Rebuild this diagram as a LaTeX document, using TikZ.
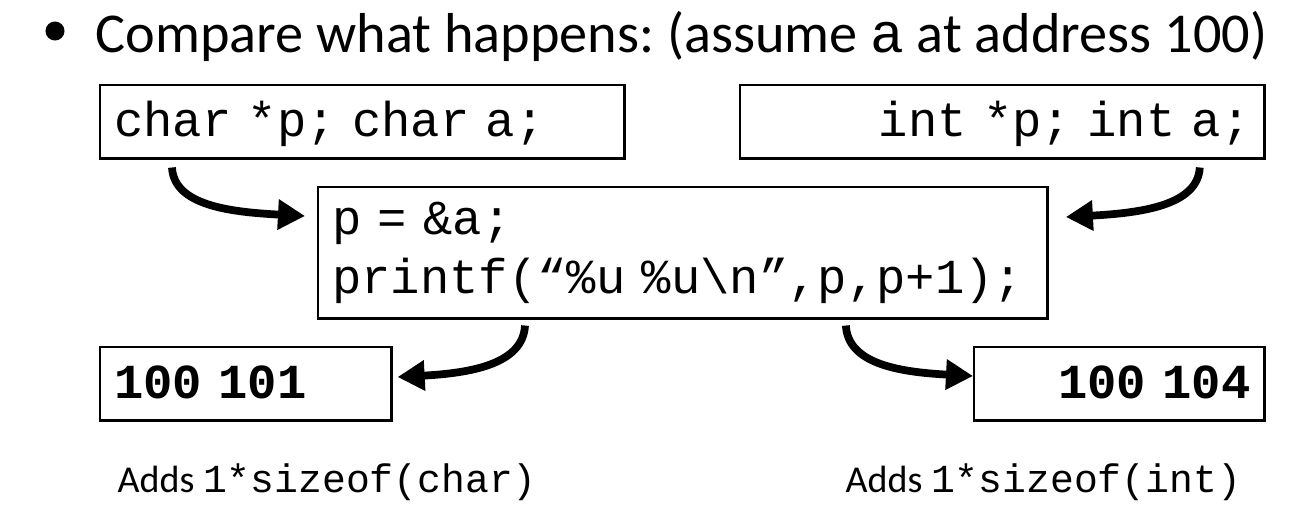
\documentclass[tikz,border=0pt]{standalone}
\usepackage{fontspec}
\setmainfont{Carlito}
\newfontfamily\codefont{Liberation Mono}
\newcommand\codesize[2]{\fontsize{#1}{#2}\selectfont\spaceskip=0.6em\relax\xspaceskip=0.6em\relax}
\usetikzlibrary{positioning, arrows.meta, calc}
\frenchspacing

\begin{document}
\begin{tikzpicture}[x=0.01cm, y=-0.01cm]
\tikzset{
    codebox/.style={draw, line width=0.7pt, anchor=north west, inner xsep=0.14cm, inner ysep=0pt,
        minimum height=0.73cm, font=\codefont\codesize{13.9}{16.8},
        text height=11pt, text depth=2.8pt},
    outbox/.style={codebox, font=\codefont\bfseries\codesize{13.9}{16.8}},
    flow/.style={line width=2.2pt, -{Triangle[length=0.27cm, width=0.29cm]}},
    note/.style={anchor=base west, inner sep=0pt, font=\fontsize{10.8}{13}\selectfont},
}
\useasboundingbox (0,0) rectangle (1315,518);

% heading
\node[circle, fill, inner sep=0pt, minimum size=0.19cm] (bullet) at (55,31) {};
\node[anchor=base west, inner sep=0pt, font=\fontsize{16}{19}\selectfont] (title) at (95,52)
    {Compare what happens: (assume {\codefont a} at address 100)};

% declarations
\node[codebox, text width=4.96cm, align=left] (charbox) at (99,84) {char *p; char a;};
\node[codebox, text width=4.96cm, align=right] (intbox) at (739,84) {int *p; int a;};

% the shared code
\node[codebox, text width=7.01cm, align=left, minimum height=1.31cm, text height=, text depth=] (printbox) at (317,186)
    {p = \&a;\\printf(“\%u \%u\textbackslash n”,p,p+1);};

% outputs
\node[outbox, text width=2.63cm, align=left] (charout) at (99,346) {100 101};
\node[outbox, text width=2.62cm, align=right] (intout) at (973,346) {100 104};

\node[note] (charnote) at (117,492) {Adds {\codefont\fontsize{11.3}{13}\selectfont 1*sizeof(char)}};
\node[note] (intnote) at (845,492) {Adds {\codefont\fontsize{11.3}{13}\selectfont 1*sizeof(int)}};

% arrows
\draw[flow] ($(charbox.south west)+(73,8)$) .. controls +(2,38) and +(-75,-4) .. ($(printbox.north west)+(-12,30)$);
\draw[flow] ($(intbox.south east)+(-66,8)$) .. controls +(-2,38) and +(75,-4) .. ($(printbox.north east)+(17,31)$);
\draw[flow] ($(printbox.south west)+(208,6)$) .. controls +(-2,38) and +(75,-4) .. ($(charout.north east)+(5,31)$);
\draw[flow] ($(printbox.south east)+(-203,6)$) .. controls +(2,38) and +(-75,-4) .. ($(intout.north west)+(0,30)$);
\end{tikzpicture}
\end{document}
